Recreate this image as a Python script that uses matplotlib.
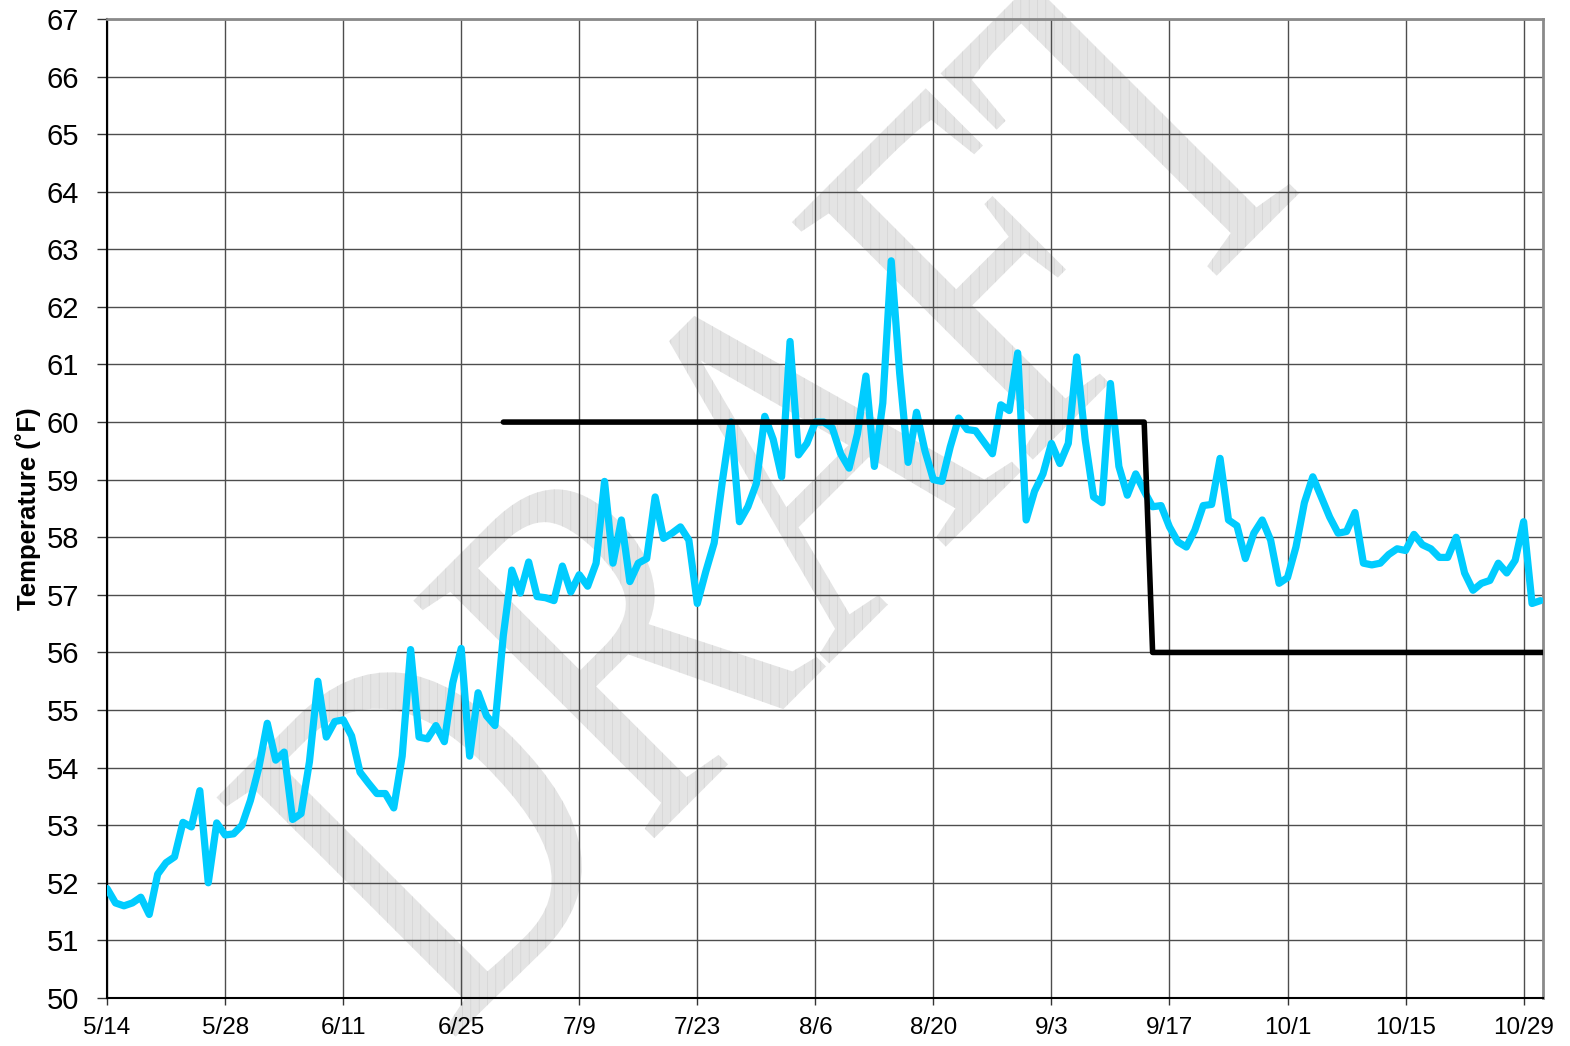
import matplotlib
matplotlib.use("Agg")
import matplotlib.pyplot as plt
from matplotlib.font_manager import FontProperties
from matplotlib.patches import PathPatch
from matplotlib.textpath import TextPath
from matplotlib.transforms import Affine2D, IdentityTransform

# daily water temperature, starting 5/14 (day 0)
temps = [
    51.9, 51.65, 51.6, 51.65, 51.75, 51.45, 52.15, 52.35, 52.45, 53.05,
    52.97, 53.6, 52.0, 53.04, 52.83, 52.85, 53.0, 53.43, 54.0, 54.77,
    54.13, 54.27, 53.1, 53.2, 54.1, 55.5, 54.53, 54.8, 54.83, 54.55,
    53.92, 53.73, 53.55, 53.55, 53.3, 54.2, 56.05, 54.53, 54.5, 54.73,
    54.45, 55.47, 56.07, 54.2, 55.3, 54.9, 54.73, 56.3, 57.43, 57.03,
    57.57, 56.97, 56.95, 56.9, 57.5, 57.05, 57.35, 57.15, 57.55, 58.97,
    57.55, 58.3, 57.23, 57.55, 57.63, 58.7, 57.98, 58.07, 58.18, 57.95,
    56.85, 57.4, 57.9, 59.0, 60.0, 58.27, 58.53, 58.93, 60.1, 59.7,
    59.05, 61.4, 59.43, 59.63, 60.0, 60.0, 59.9, 59.45, 59.2, 59.8,
    60.8, 59.23, 60.33, 62.8, 60.85, 59.3, 60.17, 59.5, 59.0, 58.97,
    59.57, 60.07, 59.87, 59.85, 59.65, 59.45, 60.3, 60.2, 61.2, 58.3,
    58.8, 59.1, 59.63, 59.28, 59.63, 61.13, 59.7, 58.7, 58.6, 60.67,
    59.23, 58.73, 59.1, 58.8, 58.53, 58.55, 58.18, 57.92, 57.83, 58.12,
    58.55, 58.57, 59.37, 58.3, 58.2, 57.63, 58.07, 58.3, 57.95, 57.2,
    57.3, 57.83, 58.6, 59.05, 58.7, 58.35, 58.07, 58.1, 58.43, 57.55,
    57.52, 57.55, 57.7, 57.8, 57.77, 58.05, 57.87, 57.8, 57.65, 57.65,
    58.0, 57.38, 57.08, 57.2, 57.25, 57.55, 57.38, 57.6, 58.27, 56.85,
    56.9,
]
days = list(range(len(temps)))

# temperature criterion (step line)
crit_days = [47, 123, 124, 171]
crit_temps = [60, 60, 56, 56]

tick_days = [0, 14, 28, 42, 56, 70, 84, 98, 112, 126, 140, 154, 168]
tick_labels = ["5/14", "5/28", "6/11", "6/25", "7/9", "7/23", "8/6",
               "8/20", "9/3", "9/17", "10/1", "10/15", "10/29"]
y_ticks = list(range(50, 68))

BLUE = "#00CCFF"

plt.rcParams["font.family"] = ["Liberation Sans", "DejaVu Sans"]
plt.rcParams["hatch.linewidth"] = 0.4

fig = plt.figure(figsize=(15.7, 10.46), dpi=100)
ax = fig.add_axes([0.0682, 0.0459, 0.9146, 0.9360])
ax.set_axisbelow(True)

# DRAFT watermark, placed in pixel space (taller, narrower serif)
path = TextPath((0, 0), "DRAFT", size=410,
                prop=FontProperties(family="Liberation Serif"))
ext = path.get_extents()
cx, cy = (ext.x0 + ext.x1) / 2, (ext.y0 + ext.y1) / 2
tr = (Affine2D().translate(-cx, -cy).scale(0.94, 1.26).rotate_deg(45)
      .translate(776, 1046 - 476))
mark = PathPatch(path, facecolor="#e4e4e4", edgecolor="#cfcfcf", hatch="||",
                 linewidth=0, zorder=0.2, clip_on=False)
mark.set_transform(tr + IdentityTransform())
ax.add_artist(mark)

ax.plot(days, temps, color=BLUE, linewidth=5.2, solid_joinstyle="round",
        solid_capstyle="round", zorder=3)
ax.plot(crit_days, crit_temps, color="black", linewidth=4.0,
        solid_capstyle="round", zorder=4)

ax.set_xlim(0, 170.3)
ax.set_ylim(50, 67)
ax.set_xticks(tick_days)
ax.set_xticklabels(tick_labels)
ax.set_yticks(y_ticks)
ax.grid(True, color="#4d4d4d", linewidth=1.0)

ax.tick_params(axis="y", direction="out", length=7, width=1, pad=13,
               labelsize=21, color="#333333")
ax.tick_params(axis="x", direction="out", length=5, width=1, pad=9,
               labelsize=17.5, color="#333333")

ax.spines["left"].set_color("black")
ax.spines["bottom"].set_color("black")
ax.spines["left"].set_linewidth(1.5)
ax.spines["bottom"].set_linewidth(1.5)
for side in ("top", "right"):
    ax.spines[side].set_color("#8a8a8a")
    ax.spines[side].set_linewidth(2)

ax.set_ylabel("Temperature (˚F)", fontsize=18.5, fontweight="bold")
ax.yaxis.set_label_coords(-0.046, 0.5)

fig.savefig("out.png", dpi=100, facecolor="white")
